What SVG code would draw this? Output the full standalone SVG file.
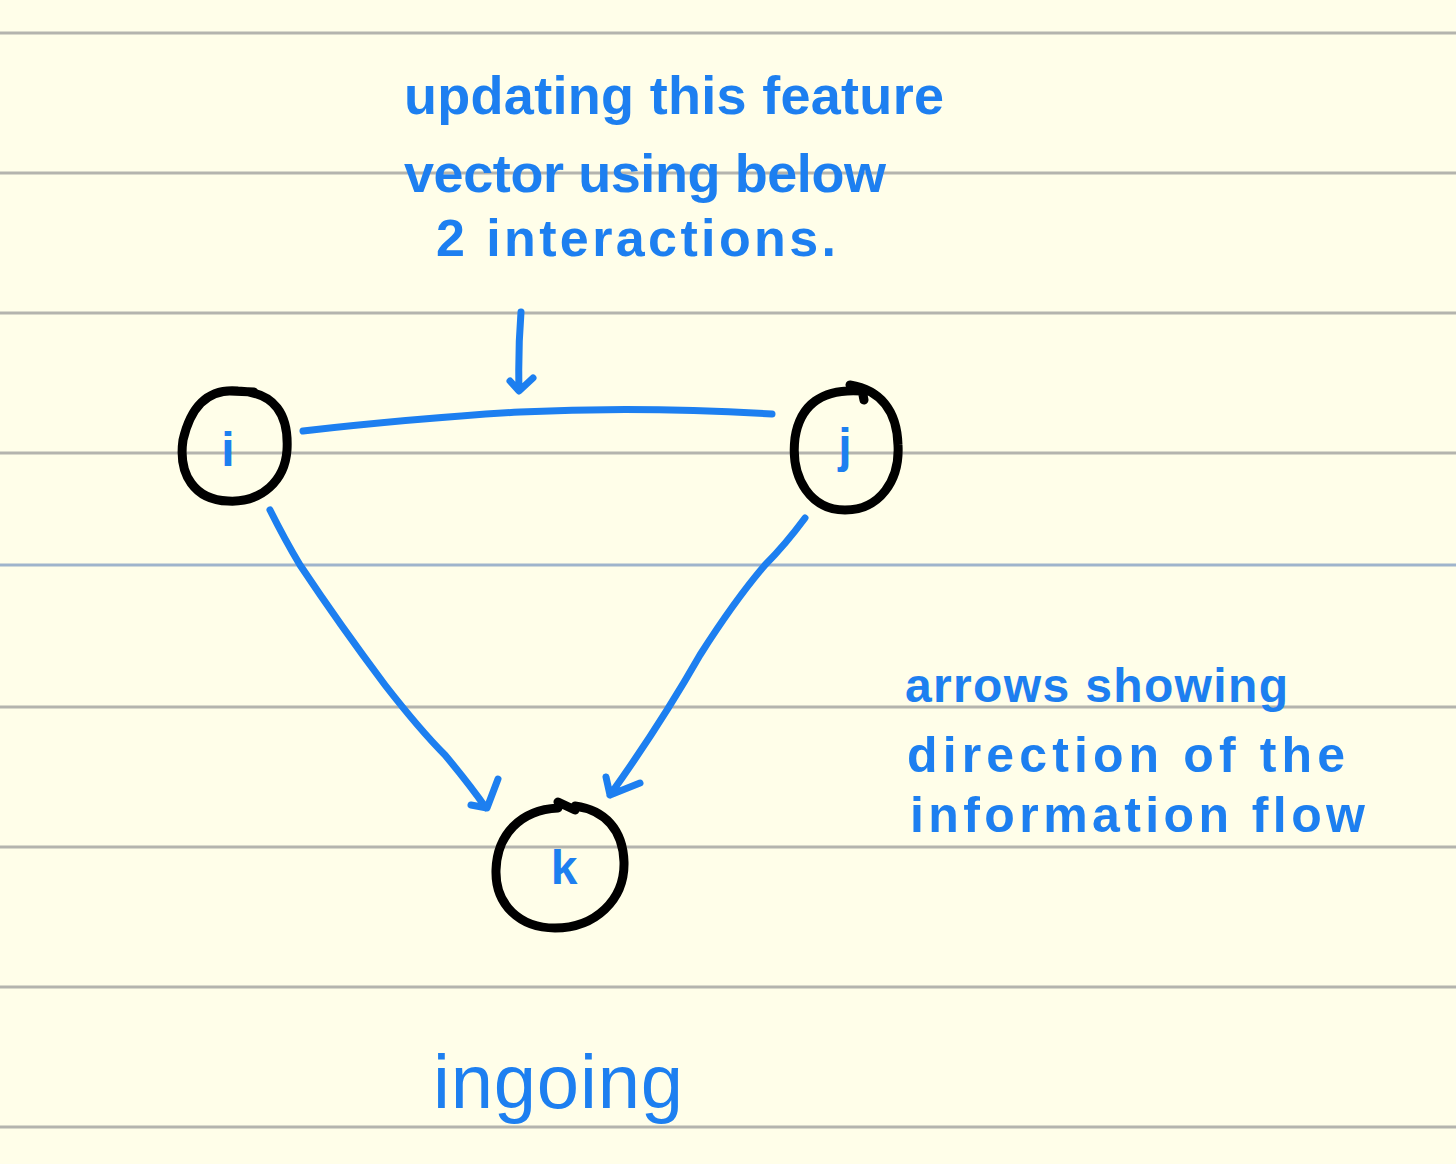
<svg xmlns="http://www.w3.org/2000/svg" width="1456" height="1164" viewBox="0 0 1456 1164">
<defs>
<style>
.rule{stroke:#b4b4ae;stroke-width:3}
.rule-b{stroke:#9fb4cc;stroke-width:3}
.ink{fill:none;stroke:#1d7ff0;stroke-width:7;stroke-linecap:round;stroke-linejoin:round}
.ring{fill:none;stroke:#000;stroke-width:9;stroke-linecap:round;stroke-linejoin:round}
.hand{font-family:"Liberation Sans",Arial,sans-serif;font-weight:bold;fill:#1d7ff0}
.big{font-family:"Liberation Sans",Arial,sans-serif;font-weight:normal;fill:#1d7ff0}
.lbl{font-family:"Liberation Sans",Arial,sans-serif;font-weight:bold;fill:#1d7ff0;font-size:48px;text-anchor:middle}
</style>
</defs>
<rect width="1456" height="1164" fill="#fffee9"/>
<g id="rules">
<line class="rule" x1="0" y1="33" x2="1456" y2="33"/>
<line class="rule" x1="0" y1="173" x2="1456" y2="173"/>
<line class="rule" x1="0" y1="313" x2="1456" y2="313"/>
<line class="rule" x1="0" y1="453" x2="1456" y2="453"/>
<line class="rule-b" x1="0" y1="565" x2="1456" y2="565"/>
<line class="rule" x1="0" y1="707" x2="1456" y2="707"/>
<line class="rule" x1="0" y1="847" x2="1456" y2="847"/>
<line class="rule" x1="0" y1="987" x2="1456" y2="987"/>
<line class="rule" x1="0" y1="1127" x2="1456" y2="1127"/>
</g>
<g id="connectors">
<path class="ink" d="M521,312 Q518,350 519,390 M510,381 L519,391 L533,378"/>
<path class="ink" d="M303,431 Q420,418 520,412 Q640,406 772,414"/>
<path class="ink" d="M270,510 Q285,540 300,565 Q340,625 385,685 Q420,730 445,755 Q470,785 486,808 M498,779 L487,808 L471,805"/>
<path class="ink" d="M805,518 Q785,545 765,565 Q735,600 700,655 Q660,725 610,795 M606,777 L610,795 L640,783"/>
</g>
<g id="node-i">
<path class="ring" d="M238,391 C205,388 190,410 183,440 C178,475 195,500 228,501 C262,503 285,480 287,450 C289,415 275,392 238,391 Z M230,391 L254,392"/>
<text class="lbl" x="228" y="466">i</text>
</g>
<g id="node-j">
<path class="ring" d="M862,391 C822,388 800,405 795,438 C790,480 812,510 845,510 C880,510 900,480 898,445 C897,410 880,390 850,385 M862,390 L864,400"/>
<text class="lbl" x="845" y="462">j</text>
</g>
<g id="node-k">
<path class="ring" d="M558,808 C520,810 497,835 496,870 C495,905 520,928 555,928 C595,928 625,900 624,862 C623,830 605,810 575,806 M558,802 L575,810"/>
<text class="lbl" x="564" y="884">k</text>
</g>
<g id="texts">
<text class="hand" x="404" y="114" font-size="54" textLength="540" lengthAdjust="spacing">updating this feature</text>
<text class="hand" x="404" y="192" font-size="54" textLength="482" lengthAdjust="spacing">vector using below</text>
<text class="hand" x="436" y="256" font-size="52" textLength="400" lengthAdjust="spacing">2 interactions.</text>
<text class="hand" x="905" y="702" font-size="48" textLength="383" lengthAdjust="spacing">arrows showing</text>
<text class="hand" x="907" y="772" font-size="50" textLength="438" lengthAdjust="spacing">direction of the</text>
<text class="hand" x="910" y="832" font-size="50" textLength="455" lengthAdjust="spacing">information flow</text>
<text class="big" x="433" y="1108" font-size="76" textLength="250" lengthAdjust="spacing">ingoing</text>
</g>
</svg>
